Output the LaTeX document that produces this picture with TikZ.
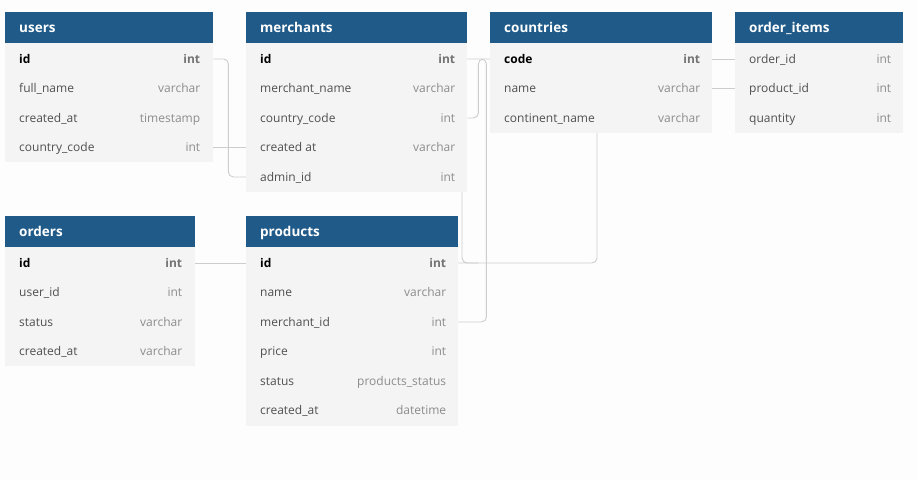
\documentclass[tikz,border=0pt]{standalone}
\usepackage{fontspec}
\setmainfont{Open Sans}
\usepackage{xcolor}
\usepackage{tikz}
\usetikzlibrary{positioning,backgrounds}

\definecolor{hdrblue}{HTML}{1F5A89}
\definecolor{bodygray}{HTML}{F4F4F4}
\definecolor{pagebg}{HTML}{FDFDFD}
\definecolor{fieldtxt}{HTML}{505050}
\definecolor{typetxt}{HTML}{8C8C8C}
\definecolor{linkgray}{HTML}{CDCDCD}

\tikzset{
  hdr/.style={fill=hdrblue},
  tbody/.style={fill=bodygray},
  title/.style={anchor=west, inner sep=0pt, text height=11pt, text depth=1.5pt, text=white, font=\fontsize{13.5}{16}\selectfont\bfseries},
  fieldrow/.style={anchor=north west, inner sep=0pt, minimum width=#1, minimum height=29.5pt},
  fname/.style={anchor=west, inner sep=0pt, text height=10.5pt, text depth=1.5pt, text=fieldtxt, font=\fontsize{12}{14}\selectfont},
  ftype/.style={anchor=east, inner sep=0pt, text height=10.5pt, text depth=1.5pt, text=typetxt, font=\fontsize{12}{14}\selectfont},
  keyname/.style={fname, text=black, font=\fontsize{12}{14}\selectfont\bfseries},
  keytype/.style={ftype, text=black!55, font=\fontsize{12}{14}\selectfont\bfseries},
  link/.style={draw=linkgray, line width=0.9pt, rounded corners=5pt},
}

\begin{document}
\begin{tikzpicture}[x=1pt, y=-1pt]
\def\rowh{29.5}
\begin{scope}[on background layer]
\fill[pagebg] (0,0) rectangle (917,480);
\end{scope}
\useasboundingbox (0,0) rectangle (917,480);

% users
\fill[hdr] (5,12) rectangle (213,43);
\fill[tbody] (5,43) rectangle (213,162);
\node[title] (users) at (19,27.5) {users};
\node[fieldrow=208pt] (users-1) at (5,44) {};
\node[keyname] (users-1-n) at ([xshift=14pt]users-1.west) {id};
\node[keytype] (users-1-t) at ([xshift=-13pt]users-1.east) {int};
\foreach \f/\t [count=\i from 2] in {full\_name/varchar, created\_at/timestamp, country\_code/int} {
  \node[fieldrow=208pt] (users-\i) at (5,{44+\rowh*(\i-1)}) {};
  \node[fname] (users-\i-n) at ([xshift=14pt]users-\i.west) {\f};
  \node[ftype] (users-\i-t) at ([xshift=-13pt]users-\i.east) {\t};
}

% merchants
\fill[hdr] (246,12) rectangle (467,43);
\fill[tbody] (246,43) rectangle (467,192);
\node[title] (merchants) at (260,27.5) {merchants};
\node[fieldrow=221pt] (merchants-1) at (246,44) {};
\node[keyname] (merchants-1-n) at ([xshift=14pt]merchants-1.west) {id};
\node[keytype] (merchants-1-t) at ([xshift=-12pt]merchants-1.east) {int};
\foreach \f/\t [count=\i from 2] in {merchant\_name/varchar, country\_code/int, created at/varchar, admin\_id/int} {
  \node[fieldrow=221pt] (merchants-\i) at (246,{44+\rowh*(\i-1)}) {};
  \node[fname] (merchants-\i-n) at ([xshift=14pt]merchants-\i.west) {\f};
  \node[ftype] (merchants-\i-t) at ([xshift=-12pt]merchants-\i.east) {\t};
}

% countries
\fill[hdr] (490,12) rectangle (712,43);
\fill[tbody] (490,43) rectangle (712,133);
\node[title] (countries) at (504,27.5) {countries};
\node[fieldrow=222pt] (countries-1) at (490,44) {};
\node[keyname] (countries-1-n) at ([xshift=14pt]countries-1.west) {code};
\node[keytype] (countries-1-t) at ([xshift=-12pt]countries-1.east) {int};
\foreach \f/\t [count=\i from 2] in {name/varchar, continent\_name/varchar} {
  \node[fieldrow=222pt] (countries-\i) at (490,{44+\rowh*(\i-1)}) {};
  \node[fname] (countries-\i-n) at ([xshift=14pt]countries-\i.west) {\f};
  \node[ftype] (countries-\i-t) at ([xshift=-12pt]countries-\i.east) {\t};
}
\coordinate (countries-foot) at (597,133);

% order_items
\fill[hdr] (735,12) rectangle (903,43);
\fill[tbody] (735,43) rectangle (903,133);
\node[title] (items) at (749,27.5) {order\_items};
\foreach \f/\t [count=\i] in {order\_id/int, product\_id/int, quantity/int} {
  \node[fieldrow=168pt] (items-\i) at (735,{44+\rowh*(\i-1)}) {};
  \node[fname] (items-\i-n) at ([xshift=14pt]items-\i.west) {\f};
  \node[ftype] (items-\i-t) at ([xshift=-12pt]items-\i.east) {\t};
}

% orders
\fill[hdr] (5,216) rectangle (195,247);
\fill[tbody] (5,247) rectangle (195,366);
\node[title] (orders) at (19,231.5) {orders};
\node[fieldrow=190pt] (orders-1) at (5,248) {};
\node[keyname] (orders-1-n) at ([xshift=14pt]orders-1.west) {id};
\node[keytype] (orders-1-t) at ([xshift=-13pt]orders-1.east) {int};
\foreach \f/\t [count=\i from 2] in {user\_id/int, status/varchar, created\_at/varchar} {
  \node[fieldrow=190pt] (orders-\i) at (5,{248+\rowh*(\i-1)}) {};
  \node[fname] (orders-\i-n) at ([xshift=14pt]orders-\i.west) {\f};
  \node[ftype] (orders-\i-t) at ([xshift=-13pt]orders-\i.east) {\t};
}

% products
\fill[hdr] (246,216) rectangle (458,247);
\fill[tbody] (246,247) rectangle (458,426);
\node[title] (products) at (260,231.5) {products};
\node[fieldrow=212pt] (products-1) at (246,248) {};
\node[keyname] (products-1-n) at ([xshift=14pt]products-1.west) {id};
\node[keytype] (products-1-t) at ([xshift=-12pt]products-1.east) {int};
\foreach \f/\t [count=\i from 2] in {name/varchar, merchant\_id/int, price/int, status/products\_status, created\_at/datetime} {
  \node[fieldrow=212pt] (products-\i) at (246,{248+\rowh*(\i-1)}) {};
  \node[fname] (products-\i-n) at ([xshift=14pt]products-\i.west) {\f};
  \node[ftype] (products-\i-t) at ([xshift=-12pt]products-\i.east) {\t};
}
\coordinate (merchants-foot) at (462,185);

% relations, under the tables
\begin{scope}[on background layer]
\draw[link] (users-1.east) -- ++(15,0) |- (merchants-5.west);
\draw[link] (users-4.east) -- (merchants-4.west);
\draw[link] (merchants-3.east) -- ++(11,0) |- (countries-1.west);
\draw[link] (merchants-1.east) -- ++(19,0) |- (products-3.east);
\draw[link] (products-1.east) -| (countries-foot);
\draw[link] (merchants-foot) |- ([xshift=20pt]products-1.east);
\draw[link] (countries-1.east) -- (items-1.west);
\draw[link] (countries-2.east) -- (items-2.west);
\draw[link] (orders-1.east) -- (products-1.west);
\end{scope}
\end{tikzpicture}
\end{document}
